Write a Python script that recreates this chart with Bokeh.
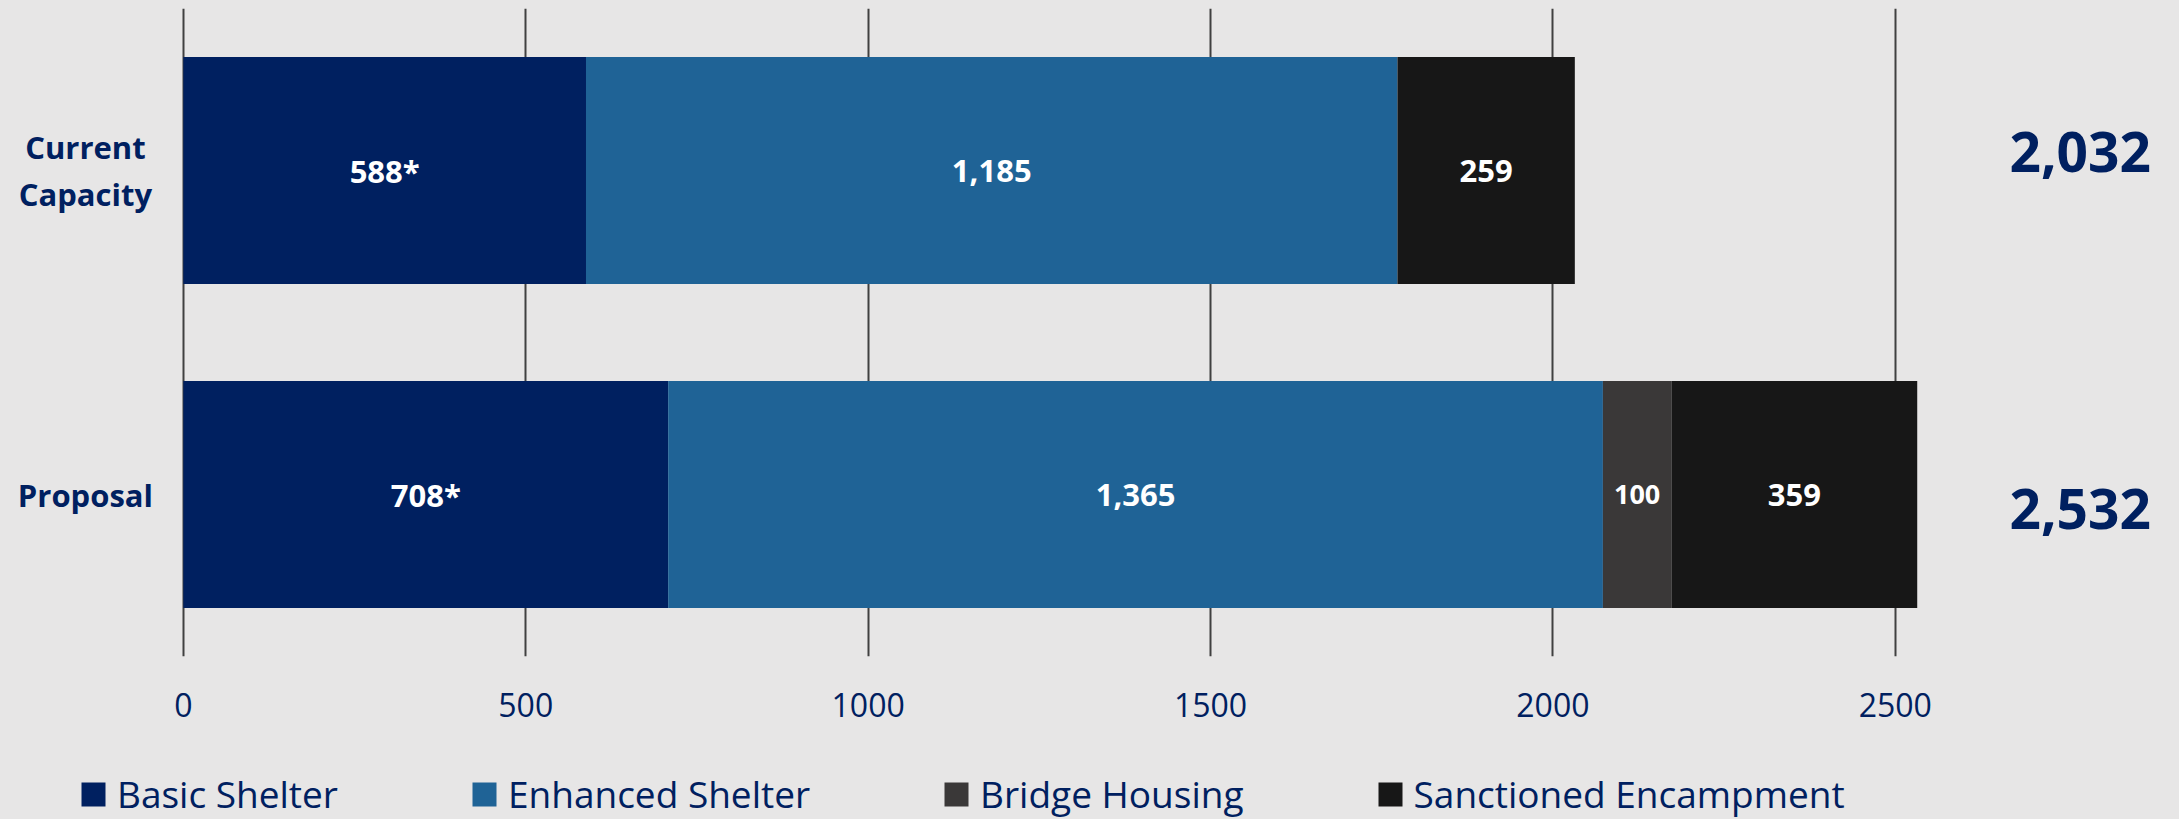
from bokeh.plotting import figure
from bokeh.layouts import column
from bokeh.models import (ColumnDataSource, FactorRange, Range1d, Legend, LegendItem, FixedTicker)
from bokeh.embed import file_html
from bokeh.resources import INLINE
from bokeh.core.properties import value

# ---------------- data ----------------
categories = ["Current Capacity", "Proposal"]
category_labels = ["Current\nCapacity", "Proposal"]
series_names = ["Basic Shelter", "Enhanced Shelter", "Bridge Housing", "Sanctioned Encampment"]
basic_shelter = [588, 708]
enhanced_shelter = [1185, 1365]
bridge_housing = [0, 100]
sanctioned_encampment = [259, 359]
basic_marks = ["*", "*"]
x_ticks = [0, 500, 1000, 1500, 2000, 2500]

# ---------------- style / layout ----------------
colors = ["#002060", "#1F6396", "#3A3838", "#171717"]
BG = "#E7E6E6"
NAVY = "#002060"
GRID = "#404040"
FONT = "Open Sans"
W = 2179
H_MAIN, H_LEG = 766, 53
X_START, X_END = -267, 2915
LABEL_X = -143
TOTAL_X = 2770
total_offsets = [-19, 14]

keys = ["basic", "enhanced", "bridge", "sanctioned"]
series = [basic_shelter, enhanced_shelter, bridge_housing, sanctioned_encampment]

src = ColumnDataSource(dict(cat=categories, **{k: v for k, v in zip(keys, series)}))

p = figure(width=W, height=H_MAIN,
           y_range=FactorRange(factors=categories[::-1], range_padding=0),
           x_range=Range1d(X_START, X_END), y_axis_location=None,
           output_backend="svg", toolbar_location=None,
           min_border_left=0, min_border_right=0, min_border_top=8, min_border_bottom=110)
p.background_fill_color = BG
p.border_fill_color = BG
p.outline_line_color = None
p.styles = {"background-color": BG}

p.hbar_stack(keys, y="cat", height=0.7, color=colors, line_color=None, source=src)

# segment labels
lab_x, lab_y, lab_t, lab_s = [], [], [], []
for ci, cat in enumerate(categories):
    left = 0
    for si in range(len(keys)):
        v = series[si][ci]
        if v > 0:
            lab_x.append(left + v / 2)
            lab_y.append(cat)
            lab_t.append(f"{v:,}" + (basic_marks[ci] if si == 0 else ""))
            lab_s.append("27px" if v < 150 else "31px")
        left += v
lab_src = ColumnDataSource(dict(x=lab_x, y=lab_y, t=lab_t, s=lab_s))
p.text(x="x", y="y", text="t", text_font_size="s", source=lab_src,
       text_color="white", text_font=value(FONT), text_font_style="bold",
       text_align="center", text_baseline="middle")

# category labels
cat_src = ColumnDataSource(dict(y=categories, t=category_labels))
p.text(x=LABEL_X, y="y", text="t", source=cat_src,
       text_color=NAVY, text_font=value(FONT), text_font_style="bold",
       text_font_size="31px", text_align="center", text_baseline="middle",
       text_line_height=1.1)

# totals
totals = [sum(s[ci] for s in series) for ci in range(len(categories))]
tot_src = ColumnDataSource(dict(y=categories, t=[f"{t:,}" for t in totals], off=total_offsets))
p.text(x=TOTAL_X, y="y", text="t", y_offset="off", source=tot_src,
       text_color=NAVY, text_font=value(FONT), text_font_style="bold",
       text_font_size="55px", text_align="center", text_baseline="middle")

# x axis
p.xaxis.ticker = FixedTicker(ticks=x_ticks)
p.xaxis.axis_line_color = None
p.xaxis.major_tick_line_color = None
p.xaxis.minor_tick_line_color = None
p.xaxis.major_tick_out = 0
p.xaxis.major_tick_in = 0
p.xaxis.major_label_standoff = 36
p.xaxis.major_label_text_font = FONT
p.xaxis.major_label_text_font_size = "32px"
p.xaxis.major_label_text_color = NAVY

p.xgrid.grid_line_color = GRID
p.xgrid.grid_line_width = 2
p.ygrid.grid_line_color = None

# ---------------- legend strip ----------------
lf = figure(width=W, height=H_LEG, x_axis_location=None, y_axis_location=None,
            x_range=Range1d(0, 1), y_range=Range1d(0, 1),
            output_backend="svg", toolbar_location=None,
            min_border_left=0, min_border_right=0, min_border_top=0, min_border_bottom=0)
lf.background_fill_color = BG
lf.border_fill_color = BG
lf.outline_line_color = None
lf.styles = {"background-color": BG}
lf.xgrid.visible = False
lf.ygrid.visible = False
# zero-size stand-ins that only carry the legend colours
leg_renderers = [lf.hbar(y=[0], left=[0], right=[0], height=0, color=c, line_color=None)
                 for c in colors]

legend = Legend(items=[LegendItem(label=n, renderers=[r]) for n, r in zip(series_names, leg_renderers)],
                orientation="horizontal", location=(78, 0), padding=0, margin=0,
                spacing=131, label_standoff=9, glyph_width=30, glyph_height=30,
                label_text_font=FONT, label_text_font_size="37px", label_text_color=NAVY,
                background_fill_alpha=0, border_line_color=None)
lf.add_layout(legend)

layout = column(p, lf, spacing=0)
layout.styles = {"background-color": BG}
open("out.html", "w").write(file_html(layout, INLINE))
